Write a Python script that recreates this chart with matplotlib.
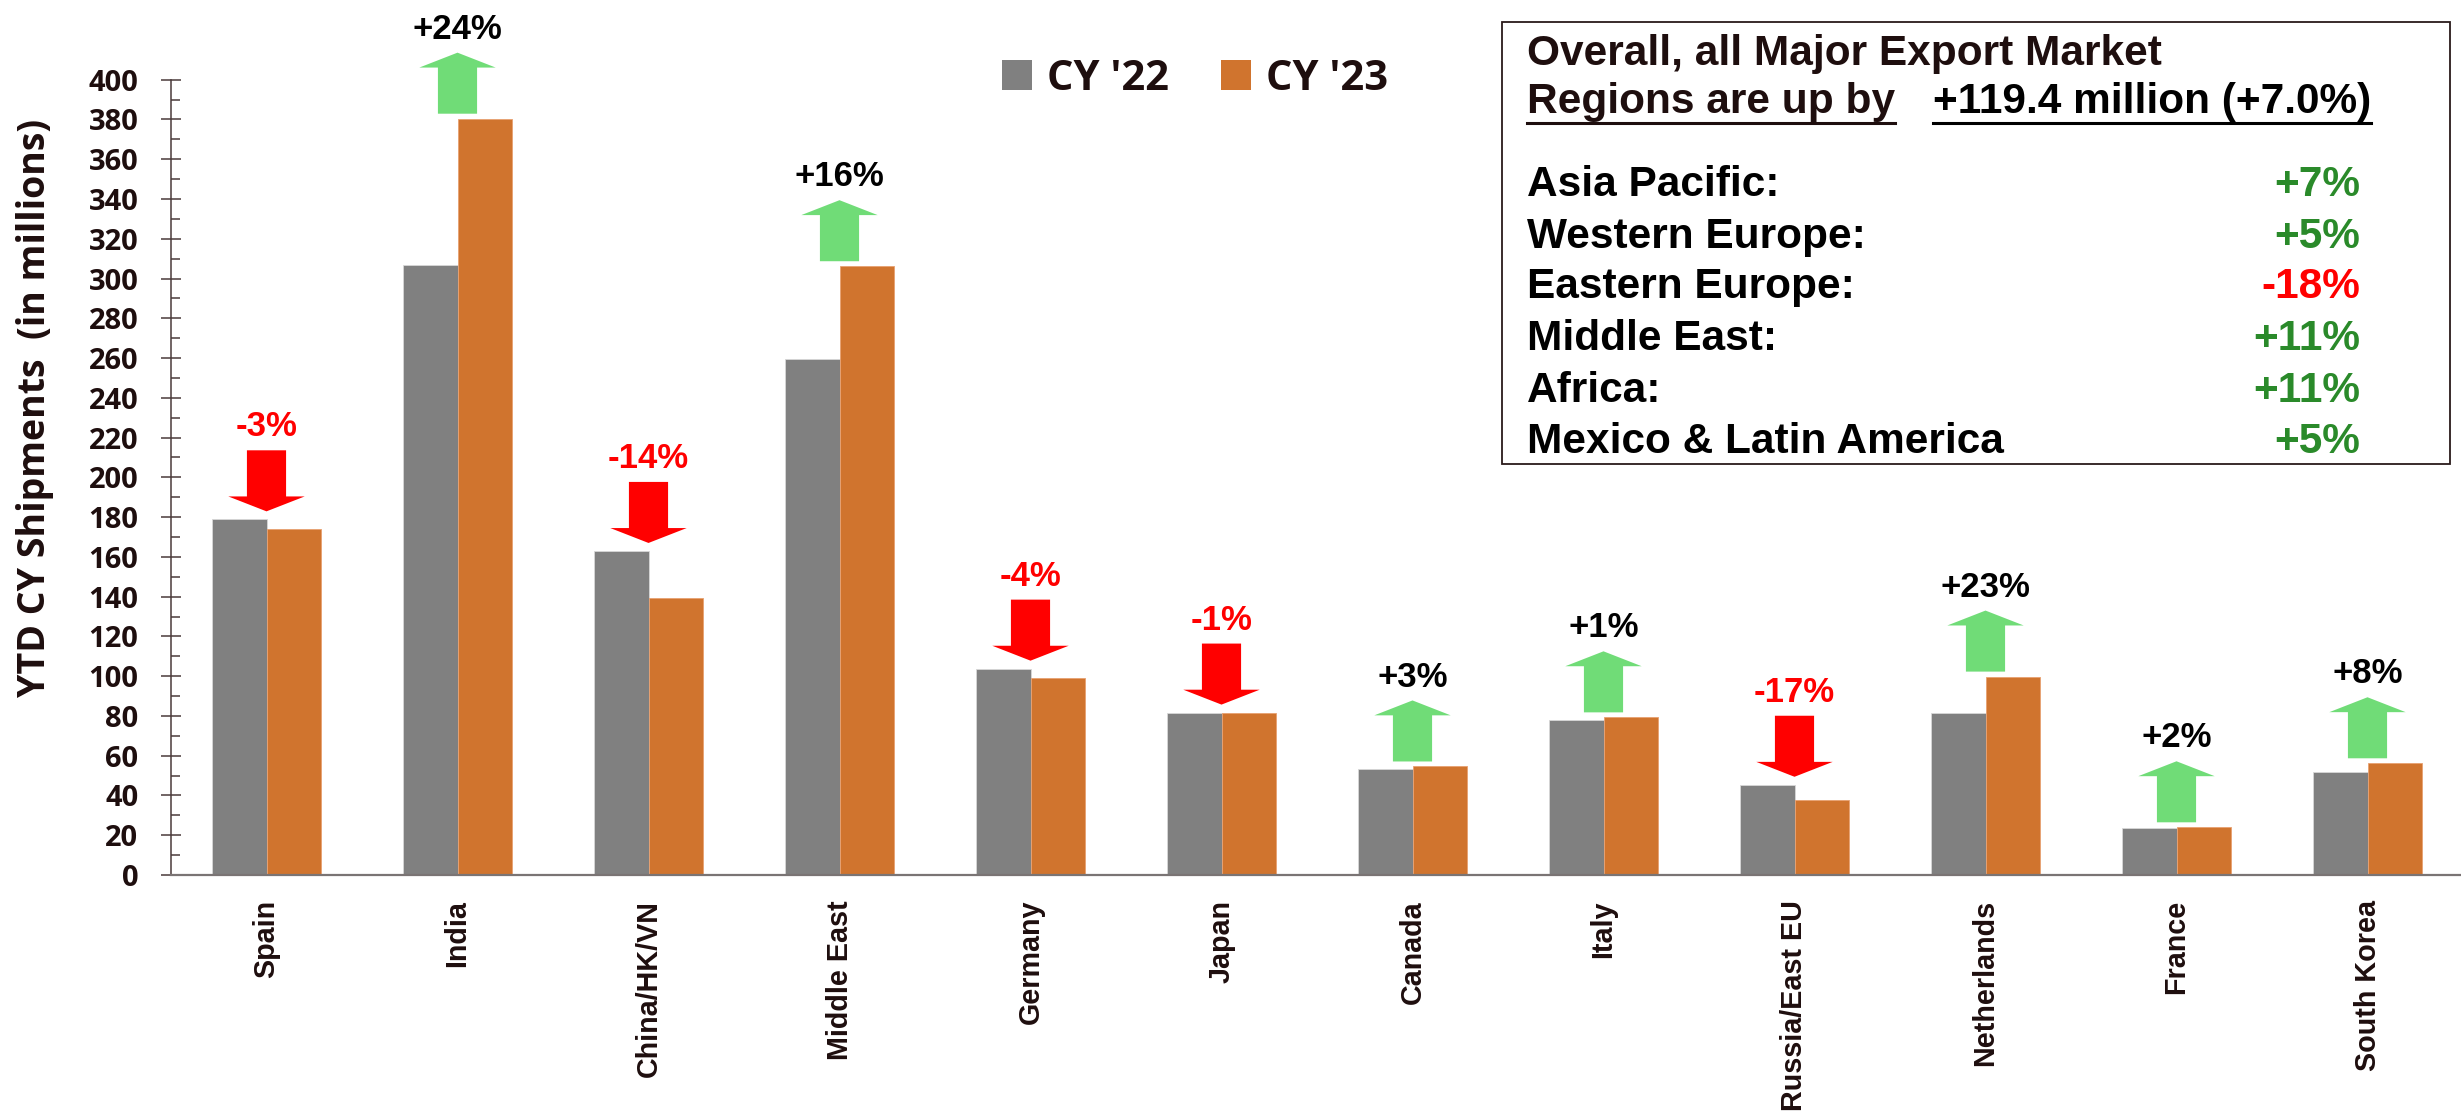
import matplotlib
matplotlib.use("Agg")
import matplotlib.pyplot as plt
from matplotlib.patches import Polygon, Rectangle, Patch
from matplotlib.lines import Line2D
import numpy as np

# --- data -------------------------------------------------------------
categories = ['Spain', 'India', 'China/HK/VN', 'Middle East', 'Germany', 'Japan',
              'Canada', 'Italy', 'Russia/East EU', 'Netherlands', 'France', 'South Korea']
cy22 = [178.9, 306.7, 163.0, 259.4, 103.8, 81.7, 53.3, 78.0, 45.4, 81.3, 23.4, 51.9]
cy23 = [174.0, 380.4, 139.5, 306.2, 99.3, 81.3, 54.6, 79.3, 37.7, 99.8, 24.0, 56.2]
changes = ['-3%', '+24%', '-14%', '+16%', '-4%', '-1%', '+3%', '+1%', '-17%', '+23%', '+2%', '+8%']

regions = ['Asia Pacific:', 'Western Europe:', 'Eastern Europe:', 'Middle East:',
           'Africa:', 'Mexico & Latin America']
region_changes = ['+7%', '+5%', '-18%', '+11%', '+11%', '+5%']

GRAY = '#808080'
ORANGE = '#D0742E'
ARROW_GREEN = '#70DC77'
RED = '#FF0000'
GREEN_TXT = '#2A8A2A'
DARK = '#1E0E0E'

W, H = 2461, 1112


def fx(px):
    return px / W


def fy(py):
    return 1 - py / H


fig = plt.figure(figsize=(W / 100, H / 100), dpi=100)
ax = fig.add_axes([fx(171), fy(875), (2463 - 171) / W, (875 - 79.7) / H])

x = np.arange(len(categories))
bw = 0.285
ax.bar(x - bw / 2, cy22, bw, color=GRAY, edgecolor='#d8d8d8', linewidth=0.6, label="CY '22", zorder=2)
ax.bar(x + bw / 2, cy23, bw, color=ORANGE, edgecolor='#e8a070', linewidth=0.6, label="CY '23", zorder=2)

ax.set_xlim(-0.5, len(categories) - 0.5)
ax.set_ylim(0, 400)
ax.set_yticks(np.arange(0, 401, 20))
ax.set_yticks(np.arange(0, 401, 10), minor=True)
ax.tick_params(axis='y', which='major', direction='inout', length=15, width=1.1,
               color='#4a3a3a', pad=16, labelsize=21, labelcolor=DARK)
ax.tick_params(axis='y', which='minor', direction='in', length=6.5, width=1.1, color='#4a3a3a')
for lab in ax.get_yticklabels():
    lab.set_fontfamily(['Open Sans', 'DejaVu Sans'])
    lab.set_fontweight('bold')

ax.set_xticks(x)
ax.set_xticklabels(categories, rotation=90, fontsize=20.7, fontweight='bold',
                   family=['Liberation Sans', 'DejaVu Sans'], color=DARK)
ax.tick_params(axis='x', length=0, pad=18)

for s in ['top', 'right']:
    ax.spines[s].set_visible(False)
ax.spines['left'].set_color('#4a3a3a')
ax.spines['left'].set_linewidth(1.1)
ax.spines['bottom'].set_color('#7a7474')
ax.spines['bottom'].set_linewidth(1.6)

# arrows + change labels
arrow_h = 30.7
head_h = 7.5
head_w = 0.40
shaft_w = 0.205
for i, ch in enumerate(changes):
    top_bar = max(cy22[i], cy23[i])
    up = ch.startswith('+')
    if up:
        base = cy23[i] + 2.5
        tip = base + arrow_h
        neck = tip - head_h
        pts = [(i - shaft_w / 2, base), (i + shaft_w / 2, base), (i + shaft_w / 2, neck),
               (i + head_w / 2, neck), (i, tip), (i - head_w / 2, neck), (i - shaft_w / 2, neck)]
        color = ARROW_GREEN
        top = tip
        tcolor = 'black'
    else:
        tip = top_bar + 4
        top = tip + arrow_h
        neck = tip + head_h
        pts = [(i - shaft_w / 2, top), (i + shaft_w / 2, top), (i + shaft_w / 2, neck),
               (i + head_w / 2, neck), (i, tip), (i - head_w / 2, neck), (i - shaft_w / 2, neck)]
        color = RED
        tcolor = RED
    ax.add_patch(Polygon(pts, closed=True, facecolor=color, edgecolor='none', zorder=3, clip_on=False))
    ax.annotate(ch, xy=(i, top), xytext=(0, 10), textcoords='offset points',
                ha='center', va='baseline', fontsize=25, fontweight='bold',
                family=['Liberation Sans', 'DejaVu Sans'], color=tcolor, annotation_clip=False)

# y label
fig.text(fx(35.5), fy(408), 'YTD CY Shipments  (in millions)', rotation=90,
         ha='center', va='center', fontsize=27, fontweight='bold',
         family=['Open Sans', 'DejaVu Sans'], color=DARK)

# legend
handles = [Patch(facecolor=GRAY, edgecolor='none'), Patch(facecolor=ORANGE, edgecolor='none')]
fig.legend(handles, ["CY '22", "CY '23"], loc='center left',
           bbox_to_anchor=(fx(1002), fy(79)), ncol=2, frameon=False,
           borderpad=0, borderaxespad=0, handlelength=0.72, handleheight=0.72,
           handletextpad=0.36, columnspacing=1.25,
           prop={'family': ['Open Sans', 'DejaVu Sans'], 'weight': 'bold', 'size': 30},
           labelcolor=DARK)

# summary box
fig.patches.append(Rectangle((fx(1502), fy(464)), (2450 - 1502) / W, (464 - 22) / H,
                             transform=fig.transFigure, facecolor='white',
                             edgecolor='#2a1a1a', linewidth=1.3, zorder=5))
box_font = dict(fontsize=30.5, fontweight='bold', family=['Liberation Sans', 'DejaVu Sans'], zorder=6)
fig.text(fx(1527), fy(65), 'Overall, all Major Export Market', ha='left', va='baseline',
         color=DARK, **box_font)
t1 = fig.text(fx(1527), fy(113), 'Regions are up by', ha='left', va='baseline', color=DARK, **box_font)
t2 = fig.text(fx(1933), fy(113), '+119.4 million (+7.0%)', ha='left', va='baseline',
              color='black', **box_font)
baselines = [196, 248, 298, 350, 402, 453]
for name, val, b in zip(regions, region_changes, baselines):
    fig.text(fx(1527), fy(b), name, ha='left', va='baseline', color='black', **box_font)
    fig.text(fx(2360), fy(b), val, ha='right', va='baseline',
             color=GREEN_TXT if val.startswith('+') else RED, **box_font)

fig.canvas.draw()
r = fig.canvas.get_renderer()
for t, c in [(t1, DARK), (t2, 'black')]:
    bb = t.get_window_extent(renderer=r)
    fig.add_artist(Line2D([bb.x0 / W, bb.x1 / W], [fy(123), fy(123)],
                          transform=fig.transFigure, color=c, linewidth=2.2, zorder=6))

fig.savefig('out.png', dpi=100)
